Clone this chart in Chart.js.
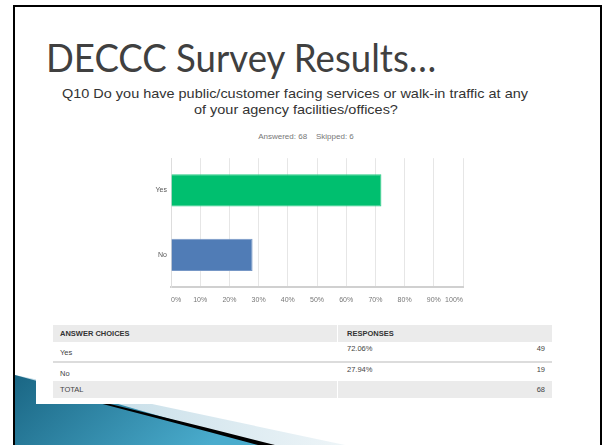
<!DOCTYPE html>
<html>
<head>
<meta charset="utf-8">
<script src="https://cdn.jsdelivr.net/npm/chart.js@4.4.1/dist/chart.umd.min.js"></script>
<style>
  html, body { margin:0; padding:0; background:#fff; }
  body { width:602px; height:445px; position:relative; overflow:hidden; font-family:"Liberation Sans", Arial, sans-serif; }
  .frame { position:absolute; left:13px; top:5px; width:585px; height:460px; border:2px solid #000; border-bottom:none; }
  .deco { position:absolute; left:0; top:0; }
  .box { position:absolute; left:36px; top:0; width:540px; height:404px; background:#fff; }
  .title { position:absolute; left:46px; top:34px; font-family:Lato, "Open Sans", sans-serif; font-size:38px; color:#404040; white-space:nowrap; transform-origin:0 0; }
  .q { position:absolute; font-size:13.5px; line-height:16px; color:#333; white-space:nowrap; transform-origin:0 0; }
  .answered { position:absolute; left:0; width:612px; top:132px; text-align:center; font-size:8px; color:#777; }
  .chart-wrap { position:absolute; left:130px; top:150px; width:345px; height:162px; }
  .tbl { position:absolute; left:53px; top:325px; width:499px; font-size:7.5px; color:#444; }
  .row { position:relative; display:flex; }
  .row .c1 { width:285px; padding-left:7px; box-sizing:border-box; }
  .row .c2 { flex:1; padding-left:9px; position:relative; }
  .row .n { position:absolute; right:7px; }
  .head { height:17px; line-height:17px; background:#ebebeb; font-weight:bold; color:#333; }
  .head .c1, .tot .c1 { border-right:1px solid #fff; }
  .tot { height:17px; line-height:17px; background:#ebebeb; }
  .sep { height:2px; background:#dcdcdc; }
</style>
</head>
<body>
<svg class="deco" width="602" height="445">
  <defs>
    <linearGradient id="teal" x1="0" y1="0" x2="1" y2="0.3">
      <stop offset="0" stop-color="#1a6684"/>
      <stop offset="1" stop-color="#4aaccd"/>
    </linearGradient>
    <linearGradient id="pale" x1="0" y1="0" x2="1" y2="0">
      <stop offset="0" stop-color="#b9d6e3"/>
      <stop offset="1" stop-color="#eef5f8"/>
    </linearGradient>
  </defs>
  <polygon points="15,375 345,445 15,445" fill="url(#pale)"/>
  <path d="M15,375 L70,390 Q165,418 262,445 L15,445 Z" fill="url(#teal)"/>
  <path d="M60,392 Q165,417 275,445 L258,445 Q165,420 60,393 Z" fill="#000"/>
</svg>
<div class="box"></div>
<div class="frame"></div>

<div class="title" id="title">DECCC Survey Results…</div>
<div class="q" id="q1" style="top:86px">Q10 Do you have public/customer facing services or walk-in traffic at any</div>
<div class="q" id="q2" style="top:102px">of your agency facilities/offices?</div>
<div class="answered" id="answered"></div>

<div class="chart-wrap"><canvas id="barChart"></canvas></div>

<div class="tbl" id="tbl"></div>

<script>
const categories = ['Yes', 'No'];
const percents = [72.06, 27.94];
const counts = [49, 19];
const answered = 68;
const skipped = 6;
const barColors = ['#00bf6f', '#507cb6'];
const barBorders = ['#29cc86', '#7697c6'];

// fallback fonts stretched to the widths seen on the slide
function fit(id, left, width) {
  const el = document.getElementById(id);
  el.style.left = left + 'px';
  el.style.transform = 'scaleX(' + (width / el.offsetWidth) + ')';
}
fit('title', 46, 390);
fit('q1', 62, 466);
const q2 = document.getElementById('q2');
const k = 466 / document.getElementById('q1').offsetWidth;
q2.style.transform = 'scaleX(' + k + ')';
q2.style.left = (296 - q2.offsetWidth * k / 2) + 'px';

document.getElementById('answered').innerHTML =
  'Answered: ' + answered + '&nbsp;&nbsp;&nbsp;&nbsp;Skipped: ' + skipped;

// answer table
let html = `<div class="row head"><div class="c1">ANSWER CHOICES</div><div class="c2">RESPONSES</div></div>`;
categories.forEach((c, i) => {
  if (i > 0) html += `<div class="sep"></div>`;
  html += `<div class="row" style="height:${i == 0 ? 19 : 18}px">
    <div class="c1" style="padding-top:6px">${c}</div>
    <div class="c2" style="padding-top:2px">${percents[i].toFixed(2)}%<span class="n">${counts[i]}</span></div>
  </div>`;
});
html += `<div class="row tot"><div class="c1">TOTAL</div><div class="c2"><span class="n">${counts.reduce((s, v) => s + v, 0)}</span></div></div>`;
document.getElementById('tbl').innerHTML = html;

new Chart(document.getElementById('barChart'), {
  type: 'bar',
  data: {
    labels: categories,
    datasets: [{
      data: percents,
      backgroundColor: barColors,
      borderColor: barBorders,
      borderWidth: 1,
      categoryPercentage: 1,
      barPercentage: 0.5
    }]
  },
  options: {
    indexAxis: 'y',
    responsive: true, maintainAspectRatio: false,
    animation: false,
    layout: { padding: { top: 5, right: 12, left: 0, bottom: 0 } },
    plugins: { legend: { display: false }, tooltip: { enabled: false } },
    scales: {
      x: {
        min: 0, max: 100,
        afterFit: s => { s.height = 25; },
        ticks: { stepSize: 10, callback: v => v + '%', align: 'inner', padding: 9,
                 font: { family: 'Liberation Sans', size: 7 }, color: '#777' },
        grid: { color: '#e6e6e6', drawTicks: false },
        border: { color: '#d0d0d0', width: 2 }
      },
      y: {
        afterFit: s => { s.width = 41; },
        ticks: { padding: 4, font: { family: 'Liberation Sans', size: 7 }, color: '#555' },
        grid: { color: 'transparent', drawTicks: false },
        border: { color: '#dddddd', width: 1 }
      }
    }
  }
});
</script>
</body>
</html>
